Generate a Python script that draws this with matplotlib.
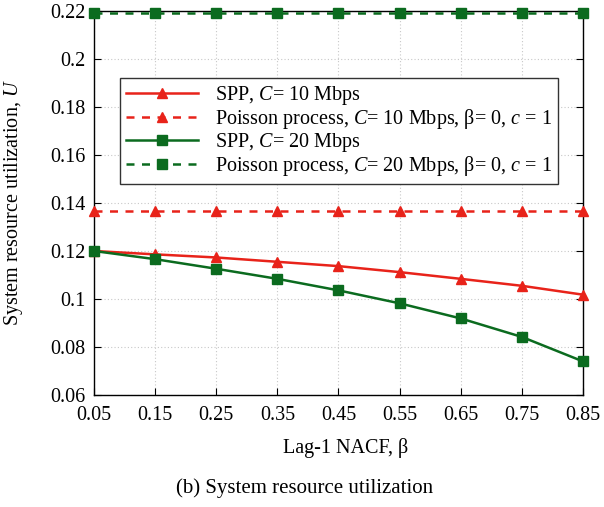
import matplotlib

matplotlib.use("Agg")
import matplotlib.pyplot as plt

plt.rcParams["font.family"] = ["Liberation Serif", "DejaVu Serif"]
plt.rcParams["mathtext.fontset"] = "custom"
plt.rcParams["mathtext.rm"] = "Liberation Serif"
plt.rcParams["mathtext.it"] = "Liberation Serif:italic"

beta = [0.05, 0.15, 0.25, 0.35, 0.45, 0.55, 0.65, 0.75, 0.85]
spp_10 = [0.1200, 0.1186, 0.1173, 0.1155, 0.1137, 0.1112, 0.1084, 0.1055, 0.1018]
poisson_10 = [0.1365] * len(beta)
spp_20 = [0.1200, 0.1166, 0.1126, 0.1084, 0.1036, 0.0982, 0.0919, 0.0842, 0.0740]
poisson_20 = [0.2191] * len(beta)

yticks = [0.06, 0.08, 0.1, 0.12, 0.14, 0.16, 0.18, 0.2, 0.22]

red = "#e8231a"
green = "#0b6b1f"
dash = (0, (3.2, 3.0))

fig = plt.figure(figsize=(6.04, 5.07), dpi=100)
ax = fig.add_axes([0.1556, 0.2209, 0.8096, 0.7574])

ax.plot(beta, spp_10, color=red, lw=1.8, marker="^", ms=7.5,
        label="SPP, $C$= 10 Mbps", clip_on=False, zorder=3)
ax.plot(beta, poisson_10, color=red, lw=1.8, ls=dash, marker="^", ms=7.5,
        label="Poisson process, $C$= 10 Mbps, β= 0, $c$ = 1", clip_on=False, zorder=3)
ax.plot(beta, spp_20, color=green, lw=1.8, marker="s", ms=6.5,
        label="SPP, $C$= 20 Mbps", clip_on=False, zorder=3)
ax.plot(beta, poisson_20, color=green, lw=1.8, ls=dash, marker="s", ms=6.5,
        label="Poisson process, $C$= 20 Mbps, β= 0, $c$ = 1", clip_on=False, zorder=3)

ax.set_xlim(0.05, 0.85)
ax.set_ylim(0.06, 0.22)
ax.set_xticks(beta)
ax.set_xticklabels([f"{b:g}" for b in beta])
ax.set_yticks(yticks)
ax.set_yticklabels([f"{v:g}" for v in yticks])
ax.tick_params(direction="in", top=True, right=True, labelsize=14.5, length=5)
ax.tick_params(axis="x", pad=8)
ax.tick_params(axis="y", pad=6)
ax.grid(True, color="#c8c8c8", ls=(0, (1, 2)), lw=0.8)
ax.set_axisbelow(True)
for s in ax.spines.values():
    s.set_linewidth(1.0)
    s.set_zorder(2.5)

ax.set_xlabel("Lag-1 NACF, β", fontsize=14.5)
ax.xaxis.set_label_coords(0.515, -0.112)
ax.set_ylabel("System resource utilization, $U$", fontsize=14.5)
ax.yaxis.set_label_coords(-0.142, 0.5)

leg = ax.legend(loc="upper left", bbox_to_anchor=(0.053, 0.8255), fontsize=14.5,
                frameon=True, fancybox=False, edgecolor="#333333", framealpha=1,
                handlelength=3.6, numpoints=1, borderpad=0.3, borderaxespad=0,
                labelspacing=0.0, handletextpad=0.8)
leg.get_frame().set_linewidth(1.0)

fig.text(0.505, 0.0375, "(b) System resource utilization", ha="center",
         va="center", fontsize=15)

fig.savefig("out.png", dpi=100)
